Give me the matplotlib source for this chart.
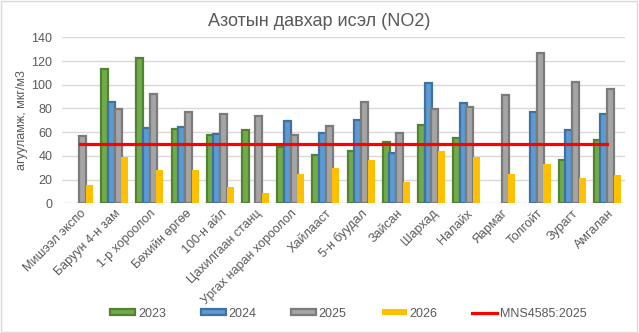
import numpy as np
import matplotlib
matplotlib.use("Agg")
import matplotlib.pyplot as plt
from matplotlib.patches import Patch, Rectangle
from matplotlib.lines import Line2D

plt.rcParams['font.family'] = ['Liberation Sans', 'DejaVu Sans']

categories = ["Мишээл экспо", "Баруун 4-н зам", "1-р хороолол", "Бөхийн өргөө",
              "100-н айл", "Цахилгаан станц", "Ургах наран хороолол", "Хайлааст",
              "5-н буудал", "Зайсан", "Шархад", "Налайх", "Яармаг", "Толгойт",
              "Зурагт", "Амгалан"]
nan = np.nan
v2023 = [nan, 113.3, 122.9, 62.8, 57.7, 61.9, 47.6, 40.8, 43.7, 52.1, 66.1, 55.2, nan, nan, 36.9, 53.0]
v2024 = [nan, 85.5, 63.6, 64.5, 58.5, nan, 69.5, 59.4, 70.3, 42.5, 101.5, 84.7, nan, 77.4, 61.4, 75.4]
v2025 = [56.6, 79.6, 92.3, 76.6, 75.4, 73.7, 57.7, 65.3, 85.5, 59.7, 79.6, 81.3, 91.7, 126.8, 102.4, 96.5]
v2026 = [15.4, 39.0, 28.1, 28.1, 13.7, 8.7, 24.7, 29.8, 36.5, 18.0, 44.1, 39.0, 24.7, 33.1, 21.3, 23.9]
standard = 50
series_names = ["2023", "2024", "2025", "2026"]
standard_name = "MNS4585:2025"

fills = ["#70AD47", "#5B9BD5", "#A5A5A5", "#FFC000"]
edges = ["#548235", "#41719C", "#7B7B7B", None]

fig = plt.figure(figsize=(6.39, 3.33), dpi=100)
ax = fig.add_axes([0.097, 0.3895, 0.881, 0.4985])

x = np.arange(len(categories))
step = 0.19
bw = 0.2
data = [v2023, v2024, v2025, v2026]
for i, vals in enumerate(data):
    off = (i - 1.5) * step
    if edges[i] is None:
        ax.bar(x + off, vals, bw, color=fills[i], linewidth=0, zorder=3 + i)
    else:
        ax.bar(x + off, vals, bw, color=fills[i], edgecolor=edges[i], linewidth=1.6, zorder=3 + i)

ax.plot(x, [standard] * len(x), color="#FF0000", linewidth=2.3, zorder=10)

ax.set_xlim(-0.5, len(categories) - 0.5)
ax.set_ylim(0, 140)
ax.set_yticks(np.arange(0, 141, 20))
ax.yaxis.grid(True, color="#D9D9D9", linewidth=1.0, zorder=0)
ax.set_axisbelow(True)
for s in ax.spines.values():
    s.set_visible(False)
ax.tick_params(axis='y', length=0, pad=7, labelsize=9, labelcolor="#595959")
ax.tick_params(axis='x', length=0, pad=3, labelsize=9, labelcolor="#595959")
ax.set_xticks(x)
ax.set_xticklabels(categories, rotation=45, ha='right', rotation_mode='anchor')
ax.set_ylabel("агууламж, мкг/м3", fontsize=9, color="#595959", labelpad=2)

fig.text(0.5, 0.934, "Азотын давхар исэл (NO2)", ha='center', va='center',
         fontsize=13, color="#595959")

handles = [Patch(facecolor=fills[0], edgecolor=edges[0], linewidth=1.6),
           Patch(facecolor=fills[1], edgecolor=edges[1], linewidth=1.6),
           Patch(facecolor=fills[2], edgecolor=edges[2], linewidth=1.6),
           Patch(facecolor=fills[3], edgecolor=fills[3], linewidth=0),
           Line2D([0], [0], color="#FF0000", linewidth=2.3)]
leg = fig.legend(handles, series_names + [standard_name], loc='center',
                 bbox_to_anchor=(0.545, 0.058), ncol=5, frameon=False,
                 fontsize=9, handlelength=2.0, handleheight=0.42,
                 handletextpad=0.2, columnspacing=2.8)
for t in leg.get_texts():
    t.set_color("#595959")

fig.patches.append(Rectangle((0.002, 0.003), 0.995, 0.993, transform=fig.transFigure,
                             fill=False, edgecolor="#D9D9D9", linewidth=1.0))

fig.savefig("out.png", dpi=100)
